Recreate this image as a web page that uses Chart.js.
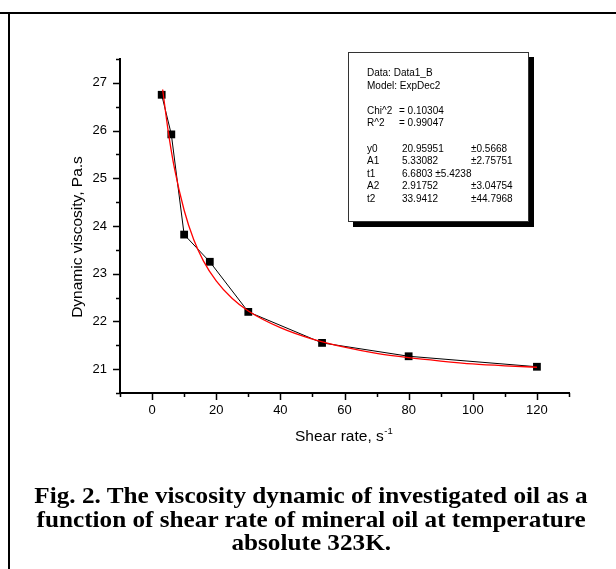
<!DOCTYPE html>
<html>
<head>
<meta charset="utf-8">
<script src="https://cdn.jsdelivr.net/npm/chart.js@4/dist/chart.umd.min.js"></script>
<style>
   html, body { margin: 0; padding: 0; background: #fff; }
   #page { position: relative; width: 616px; height: 569px; overflow: hidden; font-family: "Liberation Sans", Arial, sans-serif; }
   #chart { position: absolute; left: 0; top: 0; }
   .frame-top { position: absolute; left: 0; top: 12px; width: 616px; height: 2px; background: #000; }
   .frame-left { position: absolute; left: 8px; top: 12px; width: 2px; height: 557px; background: #000; }
   #stats { position: absolute; left: 348px; top: 52px; width: 179px; height: 168px; border: 1px solid #333; background: #fff; box-shadow: 5px 5px 0 #000; font-size: 10px; color: #000; }
   #stats div { position: absolute; white-space: nowrap; line-height: 12px; }
   #caption { position: absolute; left: 10px; top: 484px; width: 602px; text-align: center; font-family: "Liberation Serif", "Times New Roman", serif; font-weight: bold; font-size: 22.5px; line-height: 23.5px; color: #000; }
   #caption span { display: inline-block; white-space: nowrap; transform: scaleX(1.12); }
</style>
</head>
<body>
<div id="page">
   <canvas id="chart" width="616" height="569"></canvas>
   <div class="frame-top"></div>
   <div class="frame-left"></div>
   <div id="stats"></div>
   <div id="caption"><span>Fig. 2. The viscosity dynamic of investigated oil as a</span><br><span>function of shear rate of mineral oil at temperature</span><br><span>absolute 323K.</span></div>
</div>
<script>
// Points mesurés
const shearRate = [3, 6, 10, 18, 30, 53, 80, 120];
const viscosity = [26.75, 25.92, 23.82, 23.25, 22.2, 21.55, 21.27, 21.05];

// Courbe rouge (ajustement ExpDec2)
const fitRate = [3.3, 5, 7, 10, 13, 16, 20, 25, 30, 40, 50, 60, 70, 80, 90, 100, 110, 120];
const fitViscosity = [26.86, 26.0, 25.2, 24.33, 23.71, 23.27, 22.85, 22.48, 22.22, 21.87, 21.63, 21.46, 21.33, 21.24, 21.17, 21.11, 21.07, 21.04];

// Texte de l'encadré
const statsLabels = ['Data: Data1_B', 'Model: ExpDec2', '', 'Chi^2', 'R^2', '', 'y0', 'A1', 't1', 'A2', 't2'];
const statsValues = ['', '', '', '= 0.10304', '= 0.99047', '', '20.95951', '5.33082', '6.6803 \u00b15.4238', '2.91752', '33.9412'];
const statsErrors = ['', '', '', '', '', '', '\u00b10.5668', '\u00b12.75751', '', '\u00b13.04754', '\u00b144.7968'];

const yTitle = 'Dynamic viscosity, Pa.s';
const xTitle = 'Shear rate, s';
const xTitleSup = '-1';

/* Remplir l'encadré */
var stats = document.getElementById('stats');
statsLabels.forEach(function(label, i) {
   var top = 14 + i * 12.6;
   if (label) {
      var el = document.createElement('div');
      el.style.left = '18px'; el.style.top = top + 'px';
      el.textContent = label;
      stats.appendChild(el);
   }
   if (statsValues[i]) {
      var v = document.createElement('div');
      v.style.left = (i < 6 ? 50 : 53) + 'px'; v.style.top = top + 'px';
      v.textContent = statsValues[i];
      stats.appendChild(v);
   }
   if (statsErrors[i]) {
      var e = document.createElement('div');
      e.style.left = '122px'; e.style.top = top + 'px';
      e.textContent = statsErrors[i];
      stats.appendChild(e);
   }
});

const isMajorY = v => Math.abs(v - Math.round(v)) < 1e-6;
const isMajorX = v => Math.abs(v % 20) < 1e-6;

/* Graduations majeures / mineures et titres des axes */
const axisDecor = {
   id: 'axisDecor',
   afterDraw(chart) {
      const ctx = chart.ctx;
      const area = chart.chartArea;
      const xs = chart.scales.x, ys = chart.scales.y;
      ctx.save();
      ctx.strokeStyle = '#000';
      ctx.lineWidth = 1.5;
      ctx.beginPath();
      xs.ticks.forEach(t => {
         const px = Math.round(xs.getPixelForValue(t.value)) + 0.5;
         const len = isMajorX(t.value) ? 7 : 4;
         ctx.moveTo(px, area.bottom); ctx.lineTo(px, area.bottom + len);
      });
      ys.ticks.forEach(t => {
         const py = Math.round(ys.getPixelForValue(t.value)) + 0.5;
         const len = isMajorY(t.value) ? 7 : 4;
         ctx.moveTo(area.left, py); ctx.lineTo(area.left - len, py);
      });
      ctx.stroke();

      ctx.fillStyle = '#000';
      // Titre Y
      ctx.font = '15.5px "Liberation Sans", Arial, sans-serif';
      ctx.textAlign = 'center';
      ctx.textBaseline = 'middle';
      ctx.save();
      ctx.translate(78, 237);
      ctx.rotate(-Math.PI / 2);
      ctx.fillText(yTitle, 0, 0);
      ctx.restore();
      // Titre X avec exposant
      ctx.textAlign = 'left';
      ctx.textBaseline = 'alphabetic';
      ctx.fillText(xTitle, 295, 441);
      const w = ctx.measureText(xTitle).width;
      ctx.font = '9.5px "Liberation Sans", Arial, sans-serif';
      ctx.fillText(xTitleSup, 295 + w + 0.5, 434);
      ctx.restore();
   }
};

new Chart(document.getElementById('chart'), {
   type: 'line',
   data: {
      datasets: [{
         label: 'ExpDec2',
         data: fitRate.map((x, i) => ({x: x, y: fitViscosity[i]})),
         borderColor: '#ff0000',
         borderWidth: 1.3,
         pointRadius: 0,
         cubicInterpolationMode: 'monotone',
         fill: false,
         order: 0
      }, {
         label: 'Data1_B',
         data: shearRate.map((x, i) => ({x: x, y: viscosity[i]})),
         borderColor: '#000',
         borderWidth: 1,
         backgroundColor: '#000',
         pointStyle: 'rect',
         pointRadius: 5.5,
         pointBorderWidth: 0,
         tension: 0,
         fill: false,
         order: 1
      }]
   },
   options: {
      responsive: false,
      animation: false,
      events: [],
      layout: { padding: { top: 59, right: 47, left: 0, bottom: 146 } },
      plugins: { legend: { display: false }, tooltip: { enabled: false } },
      scales: {
         x: {
            type: 'linear',
            min: -10, max: 130,
            grid: { display: false, drawTicks: false },
            border: { display: true, color: '#000', width: 2 },
            ticks: {
               stepSize: 10, autoSkip: false, maxRotation: 0, padding: 10,
               color: '#000', font: { size: 13, family: '"Liberation Sans", Arial, sans-serif' },
               callback: v => isMajorX(v) ? String(v) : ''
            },
            afterFit: scale => { scale.height = 30; }
         },
         y: {
            type: 'linear',
            min: 20.5, max: 27.5,
            grid: { display: false, drawTicks: false },
            border: { display: true, color: '#000', width: 2 },
            ticks: {
               stepSize: 0.5, autoSkip: false, padding: 13,
               color: '#000', font: { size: 13, family: '"Liberation Sans", Arial, sans-serif' },
               callback: v => isMajorY(v) ? String(Math.round(v)) : ''
            },
            afterFit: scale => { scale.width = 120; }
         }
      }
   },
   plugins: [axisDecor]
});
</script>
</body>
</html>
